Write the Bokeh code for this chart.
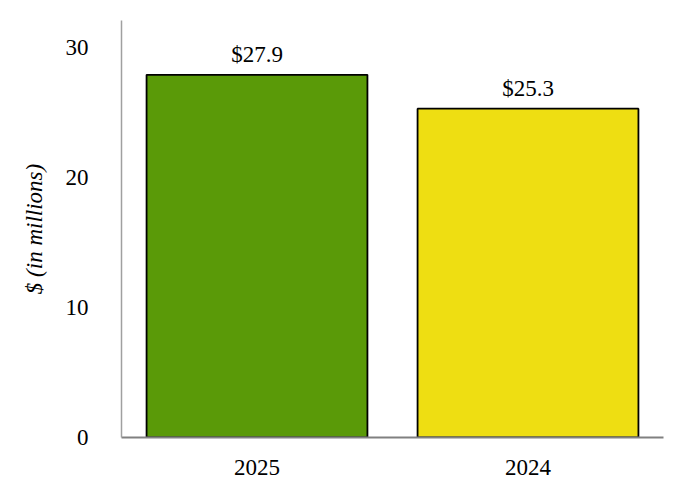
from bokeh.plotting import figure
from bokeh.models import ColumnDataSource, Range1d, FactorRange, LabelSet
from bokeh.embed import file_html
from bokeh.resources import INLINE

years = ["2025", "2024"]
values = [27.9, 25.3]
labels = ["$27.9", "$25.3"]
colors = ["#5A9A08", "#EEDE12"]
yticks = [0, 10, 20, 30]

FONT = "Liberation Serif"
FS = "23px"

src = ColumnDataSource(dict(x=years, top=values, label=labels, color=colors))

p = figure(width=674, height=492, x_range=FactorRange(*years, range_padding=0),
           y_range=Range1d(0, 32.08), output_backend="svg", toolbar_location=None,
           min_border_left=121, min_border_right=11, min_border_top=20, min_border_bottom=55)
p.vbar(x="x", top="top", width=0.815, fill_color="color", line_color="black", line_width=1.8, source=src)

p.add_layout(LabelSet(x="x", y="top", text="label", source=src, text_align="center",
                      text_baseline="bottom", y_offset=8, text_font=FONT,
                      text_font_size=FS, text_color="black"))

p.xgrid.visible = False
p.ygrid.visible = False
p.outline_line_color = None

p.yaxis.ticker = yticks
p.yaxis.axis_label = "$ (in millions)"
p.yaxis.axis_label_text_font = FONT
p.yaxis.axis_label_text_font_style = "italic"
p.yaxis.axis_label_text_font_size = FS
p.yaxis.axis_label_text_color = "black"
p.yaxis.axis_label_standoff = 16
p.yaxis.major_label_text_font = FONT
p.yaxis.major_label_text_font_size = FS
p.yaxis.major_label_standoff = 27
p.yaxis.axis_line_color = "#A0A0A0"
p.yaxis.axis_line_width = 1.5

p.xaxis.major_label_text_font = FONT
p.xaxis.major_label_text_font_size = FS
p.xaxis.major_label_standoff = 16
p.xaxis.axis_line_color = "#808080"
p.xaxis.axis_line_width = 2

for ax in (p.xaxis, p.yaxis):
    ax.major_tick_line_color = None
    ax.minor_tick_line_color = None
    ax.major_label_text_color = "black"

open("out.html", "w").write(file_html(p, INLINE))
